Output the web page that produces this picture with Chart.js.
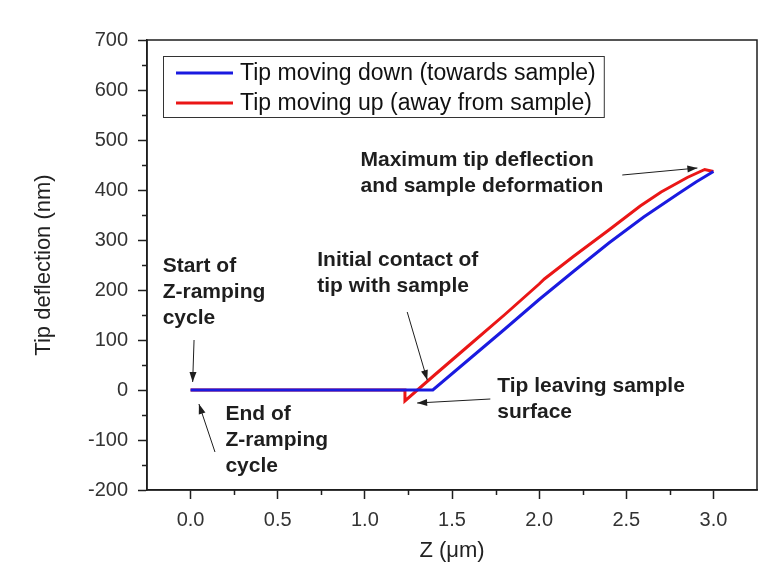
<!DOCTYPE html>
<html>
<head>
<meta charset="utf-8">
<title>Tip deflection vs Z</title>
<script src="https://cdn.jsdelivr.net/npm/chart.js@4"></script>
<style>
  html, body { margin: 0; padding: 0; background: #fff; }
</style>
</head>
<body>
<canvas id="chart" width="776" height="566"></canvas>
<script>
// Force curve: tip moving down (approach) and tip moving up (retract)
const downZ    = [0, 1.39, 1.6, 1.8, 2.0, 2.2, 2.4, 2.6, 2.8, 2.9, 3.0];
const downDefl = [0, 0,    62,  121, 181, 238, 294, 346, 393, 416, 437];

const upZ    = [3.0, 2.95, 2.85, 2.7, 2.58, 2.4, 2.2, 2.03, 2.0, 1.8, 1.6, 1.4, 1.23, 1.23, 0];
const upDefl = [437, 441,  425,  396, 368,  320, 268, 222,  212, 150, 90,  30,  -22,  0,    0];

const seriesLabels = ['Tip moving down (towards sample)', 'Tip moving up (away from sample)'];
const seriesColors = ['#1a1ae0', '#ea1616'];

const zTicks        = [0, 0.5, 1.0, 1.5, 2.0, 2.5, 3.0];
const zMinorTicks   = [0.25, 0.75, 1.25, 1.75, 2.25, 2.75];
const deflTicks     = [-200, -100, 0, 100, 200, 300, 400, 500, 600, 700];
const deflMinorTicks = [-150, -50, 50, 150, 250, 350, 450, 550, 650];

// Callouts, anchored in data units (left edge of first baseline)
const notes = [
  { lines: ['Start of', 'Z-ramping', 'cycle'], z: -0.16, defl: 236 },
  { lines: ['End of', 'Z-ramping', 'cycle'], z: 0.2, defl: -60 },
  { lines: ['Initial contact of', 'tip with sample'], z: 0.727, defl: 248 },
  { lines: ['Tip leaving sample', 'surface'], z: 1.76, defl: -4 },
  { lines: ['Maximum tip deflection', 'and sample deformation'], z: 0.975, defl: 448 },
];
const arrows = [
  { from: [0.02, 100], to: [0.012, 16] },
  { from: [0.14, -124], to: [0.048, -28] },
  { from: [1.243, 156], to: [1.358, 20] },
  { from: [1.72, -18], to: [1.30, -26] },
  { from: [2.477, 430], to: [2.908, 444] },
];

const INK = '#1e1e1e';
const FONT = '"Liberation Sans", Arial, sans-serif';

function toPoints(xs, ys) {
  return xs.map((v, i) => ({ x: v, y: ys[i] }));
}

const framePlugin = {
  id: 'frame',
  afterDraw(chart) {
    const { ctx, chartArea: a, scales: { x, y } } = chart;
    ctx.save();
    ctx.strokeStyle = INK;
    ctx.lineWidth = 1.5;
    ctx.strokeRect(a.left, a.top, a.right - a.left, a.bottom - a.top);
    ctx.beginPath();
    zMinorTicks.forEach(v => {
      const px = Math.round(x.getPixelForValue(v)) + 0.5;
      ctx.moveTo(px, a.bottom); ctx.lineTo(px, a.bottom + 5);
    });
    deflMinorTicks.forEach(v => {
      const py = Math.round(y.getPixelForValue(v)) + 0.5;
      ctx.moveTo(a.left, py); ctx.lineTo(a.left - 5, py);
    });
    ctx.stroke();
    ctx.restore();
  }
};

const notesPlugin = {
  id: 'notes',
  afterDraw(chart) {
    const { ctx, scales: { x, y } } = chart;
    ctx.save();
    ctx.font = 'bold 21px ' + FONT;
    ctx.fillStyle = INK;
    ctx.textBaseline = 'alphabetic';
    notes.forEach(n => {
      const px = x.getPixelForValue(n.z), py = y.getPixelForValue(n.defl);
      n.lines.forEach((t, i) => ctx.fillText(t, px, py + i * 26));
    });

    ctx.strokeStyle = INK;
    ctx.lineWidth = 1;
    arrows.forEach(ar => {
      const x0 = x.getPixelForValue(ar.from[0]), y0 = y.getPixelForValue(ar.from[1]);
      const x1 = x.getPixelForValue(ar.to[0]),   y1 = y.getPixelForValue(ar.to[1]);
      const ang = Math.atan2(y1 - y0, x1 - x0);
      ctx.beginPath();
      ctx.moveTo(x0, y0); ctx.lineTo(x1, y1);
      ctx.stroke();
      ctx.beginPath();
      ctx.moveTo(x1, y1);
      ctx.lineTo(x1 - 10 * Math.cos(ang) + 3.5 * Math.sin(ang), y1 - 10 * Math.sin(ang) - 3.5 * Math.cos(ang));
      ctx.lineTo(x1 - 10 * Math.cos(ang) - 3.5 * Math.sin(ang), y1 - 10 * Math.sin(ang) + 3.5 * Math.cos(ang));
      ctx.closePath();
      ctx.fill();
    });
    ctx.restore();
  }
};

// Boxed legend in the upper-left of the plot
const legendBoxPlugin = {
  id: 'legendBox',
  afterDraw(chart) {
    const { ctx, chartArea: a } = chart;
    const sets = chart.data.datasets;
    ctx.save();
    ctx.font = '23px ' + FONT;
    const maxW = Math.max(...sets.map(d => ctx.measureText(d.label).width));
    const x0 = a.left + 16, y0 = a.top + 16;
    const w = 77 + maxW + 8, h = 61;
    ctx.fillStyle = '#fff';
    ctx.fillRect(x0, y0, w, h);
    ctx.strokeStyle = '#333';
    ctx.lineWidth = 1;
    ctx.strokeRect(x0 + 0.5, y0 + 0.5, w, h);
    sets.forEach((d, i) => {
      const cy = y0 + 17 + i * 30;
      ctx.strokeStyle = d.borderColor;
      ctx.lineWidth = 3;
      ctx.beginPath();
      ctx.moveTo(x0 + 13, cy); ctx.lineTo(x0 + 70, cy);
      ctx.stroke();
      ctx.fillStyle = '#111';
      ctx.textBaseline = 'middle';
      ctx.fillText(d.label, x0 + 77, cy + 1);
    });
    ctx.restore();
  }
};

new Chart(document.getElementById('chart'), {
  type: 'scatter',
  data: {
    datasets: [
      { label: seriesLabels[0], data: toPoints(downZ, downDefl), borderColor: seriesColors[0] },
      { label: seriesLabels[1], data: toPoints(upZ, upDefl), borderColor: seriesColors[1] },
    ].map(d => Object.assign(d, { showLine: true, borderWidth: 3, pointRadius: 0, tension: 0, fill: false }))
  },
  options: {
    responsive: false,
    animation: false,
    layout: { padding: { top: 40, right: 19, left: 0, bottom: 0 } },
    plugins: { legend: { display: false }, tooltip: { enabled: false } },
    scales: {
      x: {
        type: 'linear',
        min: -0.25, max: 3.25,
        afterBuildTicks: s => { s.ticks = zTicks.map(v => ({ value: v })); },
        afterFit: s => { s.height = 76; },
        ticks: { callback: v => v.toFixed(1), color: '#333', font: { size: 20, family: FONT }, padding: 9, maxRotation: 0 },
        grid: { drawOnChartArea: false, tickLength: 9, tickColor: INK, tickWidth: 1.5 },
        border: { color: INK, width: 1.5 },
        title: { display: true, text: 'Z (μm)', color: '#222', font: { size: 22, family: FONT }, padding: { top: 0, bottom: 2 } }
      },
      y: {
        type: 'linear',
        min: -200, max: 700,
        afterBuildTicks: s => { s.ticks = deflTicks.map(v => ({ value: v })); },
        afterFit: s => { s.width = 147; },
        ticks: { color: '#333', font: { size: 20, family: FONT }, padding: 10 },
        grid: { drawOnChartArea: false, tickLength: 9, tickColor: INK, tickWidth: 1.5 },
        border: { color: INK, width: 1.5 },
        title: { display: true, text: 'Tip deflection (nm)', color: '#222', font: { size: 22, family: FONT }, padding: { top: 31, bottom: 0 } }
      }
    }
  },
  plugins: [framePlugin, notesPlugin, legendBoxPlugin]
});
</script>
</body>
</html>
